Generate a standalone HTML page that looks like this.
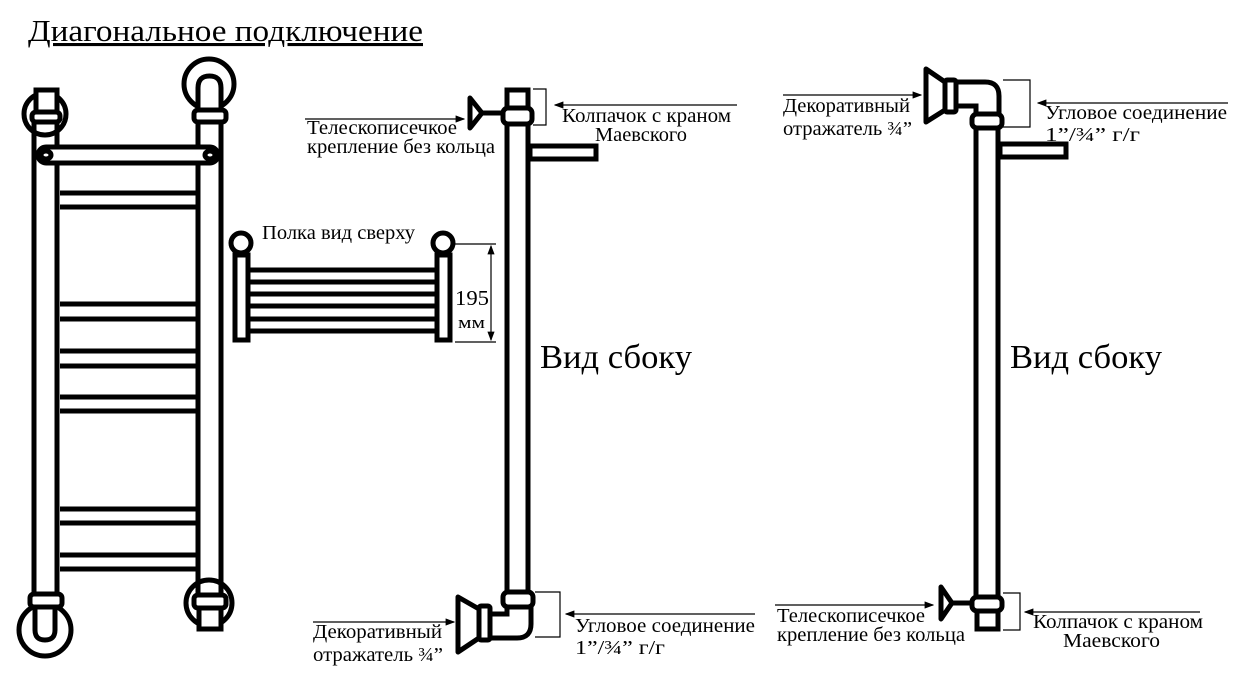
<!DOCTYPE html>
<html><head><meta charset="utf-8"><style>
html,body{margin:0;padding:0;background:#fff;}
svg{display:block;}
text{font-family:"Liberation Serif",serif;fill:#000;}
</style></head><body>
<svg width="1250" height="678" viewBox="0 0 1250 678" xmlns="http://www.w3.org/2000/svg">
<defs>
<marker id="ar" markerWidth="8" markerHeight="6" refX="7" refY="3" orient="auto"><path d="M0,0 L8,3 L0,6 z" fill="#000"/></marker>
<marker id="ar2" markerWidth="8" markerHeight="6" refX="1" refY="3" orient="auto"><path d="M8,0 L0,3 L8,6 z" fill="#000"/></marker>
</defs>
<text x="28" y="41" font-size="31" text-decoration="underline" textLength="395" lengthAdjust="spacingAndGlyphs">Диагональное подключение</text>

<g stroke="#000" stroke-width="5" fill="none">
<line x1="34" y1="122" x2="34" y2="593"/>
<line x1="57" y1="122" x2="57" y2="593"/>
<line x1="198" y1="122" x2="198" y2="595"/>
<line x1="221" y1="122" x2="221" y2="595"/>
<g>
<line x1="60" y1="193" x2="198" y2="193"/><line x1="60" y1="207" x2="198" y2="207"/>
<line x1="60" y1="304" x2="198" y2="304"/><line x1="60" y1="319" x2="198" y2="319"/>
<line x1="60" y1="351" x2="198" y2="351"/><line x1="60" y1="366" x2="198" y2="366"/>
<line x1="60" y1="397" x2="198" y2="397"/><line x1="60" y1="411" x2="198" y2="411"/>
<line x1="60" y1="509" x2="198" y2="509"/><line x1="60" y1="523" x2="198" y2="523"/>
<line x1="60" y1="555" x2="198" y2="555"/><line x1="60" y1="569" x2="198" y2="569"/>
</g>
<rect x="38" y="147" width="180" height="16" rx="8" fill="#fff"/>
<ellipse cx="46" cy="155" rx="5" ry="4"/><ellipse cx="210" cy="155" rx="5" ry="4"/>
<circle cx="45" cy="114" r="21"/>
<rect x="36" y="90" width="21" height="22" fill="#fff"/>
<rect x="32" y="112" width="28" height="10" rx="4" fill="#fff"/>
<circle cx="209" cy="84" r="25"/>
<path d="M198,110 V88 Q198,76 209.5,76 Q221,76 221,88 V110" fill="#fff"/>
<rect x="194" y="110" width="32" height="12" rx="4" fill="#fff"/>
<circle cx="45" cy="630" r="26"/>
<path d="M35,608 V630 Q35,640 45,640 Q55,640 55,630 V608" fill="#fff"/>
<rect x="30" y="594" width="32" height="13" rx="4" fill="#fff"/>
<circle cx="209" cy="603" r="23"/>
<rect x="199" y="607" width="22" height="22" fill="#fff"/>
<rect x="194" y="595" width="32" height="13" rx="4" fill="#fff"/>

<circle cx="241" cy="243" r="10"/><circle cx="443" cy="243" r="10"/>
<rect x="235" y="255" width="13" height="85" fill="#fff"/>
<rect x="437" y="255" width="13" height="85" fill="#fff"/>
<line x1="250" y1="270" x2="435" y2="270"/><line x1="250" y1="282" x2="435" y2="282"/>
<line x1="250" y1="294" x2="435" y2="294"/><line x1="250" y1="306" x2="435" y2="306"/>
<line x1="250" y1="319" x2="435" y2="319"/><line x1="250" y1="331" x2="435" y2="331"/>

<line x1="507" y1="125" x2="507" y2="592"/>
<line x1="528" y1="125" x2="528" y2="592"/>
<rect x="507" y="90" width="21" height="18"/>
<rect x="503" y="108" width="29" height="16" rx="5" fill="#fff"/>
<rect x="530" y="146" width="66" height="13"/>
<path d="M470,98 L482,113 L470,128 Z" stroke-linejoin="round"/>
<line x1="482" y1="113" x2="503" y2="113"/>
<rect x="503" y="592" width="30" height="15" rx="5" fill="#fff"/>
<path d="M531,607 V624 Q531,638 517,638 H490 M507,607 V614 H490"/>
<rect x="479" y="606" width="11" height="34" rx="2" fill="#fff"/>
<path d="M458,597 L479,609 V638 L458,652 Z" stroke-linejoin="round"/>

<line x1="976" y1="128" x2="976" y2="596"/>
<line x1="998" y1="128" x2="998" y2="596"/>
<rect x="972" y="114" width="30" height="14" rx="5" fill="#fff"/>
<path d="M999,114 V96 Q999,82 985,82 H955 M976,114 V106 H955"/>
<rect x="945" y="80" width="11" height="32" rx="2" fill="#fff"/>
<path d="M926,69 L945,82 V110 L926,122 Z" stroke-linejoin="round"/>
<rect x="1000" y="144" width="66" height="13"/>
<rect x="972" y="597" width="30" height="14" rx="5" fill="#fff"/>
<rect x="977" y="611" width="21" height="18"/>
<path d="M941,587 L952,603 L941,619 Z" stroke-linejoin="round"/>
<line x1="952" y1="603" x2="972" y2="603"/>
</g>

<g stroke="#000" stroke-width="1.2" fill="none">
<line x1="455" y1="244" x2="496" y2="244"/><line x1="455" y1="342" x2="496" y2="342"/>
<line x1="491" y1="246" x2="491" y2="340" marker-start="url(#ar2)" marker-end="url(#ar)"/>
<path d="M533,89 H546 V125 H533"/>
<line x1="737" y1="105" x2="555" y2="105" marker-end="url(#ar)"/>
<line x1="305" y1="119" x2="464" y2="119" marker-end="url(#ar)"/>
<path d="M535,592 H560 V637 H535"/>
<line x1="755" y1="614" x2="566" y2="614" marker-end="url(#ar)"/>
<line x1="313" y1="622" x2="454" y2="622" marker-end="url(#ar)"/>
<path d="M1003,80 H1030 V127 H1003"/>
<line x1="1228" y1="103" x2="1038" y2="103" marker-end="url(#ar)"/>
<line x1="783" y1="95" x2="921" y2="95" marker-end="url(#ar)"/>
<path d="M1003,593 H1020 V630 H1003"/>
<line x1="1200" y1="612" x2="1025" y2="612" marker-end="url(#ar)"/>
<line x1="775" y1="605" x2="933" y2="605" marker-end="url(#ar)"/>
</g>

<g font-size="20">
<text x="262" y="239" textLength="153" lengthAdjust="spacingAndGlyphs">Полка вид сверху</text>
<text x="455" y="305" font-size="21" textLength="34" lengthAdjust="spacingAndGlyphs">195</text>
<text x="458" y="328" font-size="17" textLength="27" lengthAdjust="spacingAndGlyphs">мм</text>
<text x="562" y="122" textLength="169" lengthAdjust="spacingAndGlyphs">Колпачок с краном</text>
<text x="595" y="141" textLength="92" lengthAdjust="spacingAndGlyphs">Маевского</text>
<text x="307" y="134" textLength="150" lengthAdjust="spacingAndGlyphs">Телескописечкое</text>
<text x="307" y="153" textLength="188" lengthAdjust="spacingAndGlyphs">крепление без кольца</text>
<text x="575" y="632" textLength="180" lengthAdjust="spacingAndGlyphs">Угловое соединение</text>
<text x="575" y="654" textLength="90" lengthAdjust="spacingAndGlyphs">1”/¾” г/г</text>
<text x="313" y="638" textLength="129" lengthAdjust="spacingAndGlyphs">Декоративный</text>
<text x="313" y="661" textLength="130" lengthAdjust="spacingAndGlyphs">отражатель ¾”</text>
<text x="1045" y="119" textLength="182" lengthAdjust="spacingAndGlyphs">Угловое соединение</text>
<text x="1045" y="141" textLength="95" lengthAdjust="spacingAndGlyphs">1”/¾” г/г</text>
<text x="783" y="112" textLength="127" lengthAdjust="spacingAndGlyphs">Декоративный</text>
<text x="783" y="135" textLength="129" lengthAdjust="spacingAndGlyphs">отражатель ¾”</text>
<text x="1033" y="628" textLength="170" lengthAdjust="spacingAndGlyphs">Колпачок с краном</text>
<text x="1063" y="647" textLength="97" lengthAdjust="spacingAndGlyphs">Маевского</text>
<text x="777" y="622" textLength="148" lengthAdjust="spacingAndGlyphs">Телескописечкое</text>
<text x="777" y="641" textLength="188" lengthAdjust="spacingAndGlyphs">крепление без кольца</text>
</g>
<text x="540" y="368" font-size="34" textLength="152" lengthAdjust="spacingAndGlyphs">Вид сбоку</text>
<text x="1010" y="368" font-size="34" textLength="152" lengthAdjust="spacingAndGlyphs">Вид сбоку</text>
</svg>
</body></html>
